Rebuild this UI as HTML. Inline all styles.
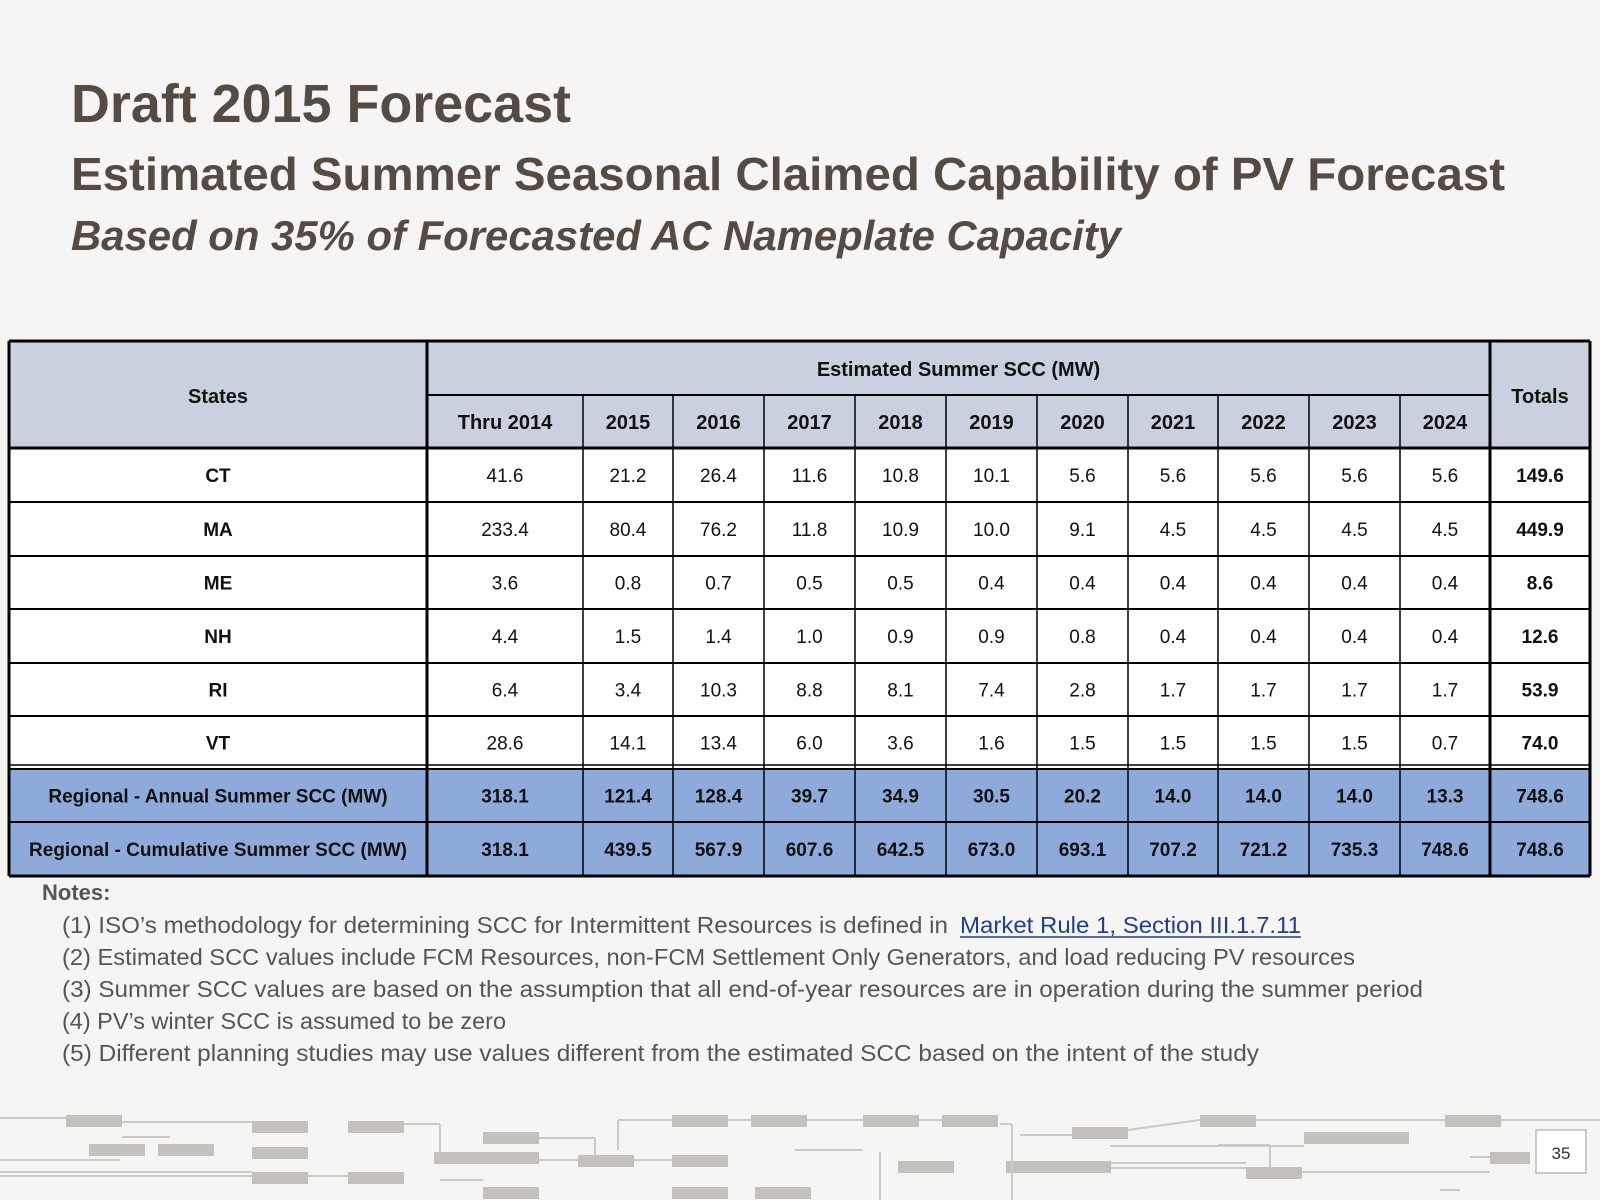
<!DOCTYPE html>
<html><head><meta charset="utf-8">
<style>
html,body{margin:0;padding:0;background:#f6f5f3;}
svg{display:block;}
text{font-family:"Liberation Sans",sans-serif;}
</style></head>
<body>
<svg id="s" width="1600" height="1200" viewBox="0 0 1600 1200" xmlns="http://www.w3.org/2000/svg">
<rect width="1600" height="1200" fill="#f6f5f3"/>
<text x="71" y="122" font-size="54" font-weight="bold" fill="#564b43" textLength="500" lengthAdjust="spacingAndGlyphs">Draft 2015 Forecast</text>
<text x="71" y="190" font-size="46" font-weight="bold" fill="#564b43" textLength="1434" lengthAdjust="spacingAndGlyphs">Estimated Summer Seasonal Claimed Capability of PV Forecast</text>
<text x="71" y="250" font-size="42" font-weight="bold" font-style="italic" fill="#564b43" textLength="1050" lengthAdjust="spacingAndGlyphs">Based on 35% of Forecasted AC Nameplate Capacity</text>
<g id="deco"></g>
<g id="tbl"></g>
<g id="notes"></g>
<rect x="1536" y="1130" width="50" height="43" fill="#fff" stroke="#bbb" stroke-width="1.5"/>
<text x="1561" y="1159" font-size="17" text-anchor="middle" fill="#333">35</text>
</svg>
<script>
const years=["Thru 2014","2015","2016","2017","2018","2019","2020","2021","2022","2023","2024"];
const states=["CT","MA","ME","NH","RI","VT"];
const ctVals=["41.6","21.2","26.4","11.6","10.8","10.1","5.6","5.6","5.6","5.6","5.6","149.6"];
const maVals=["233.4","80.4","76.2","11.8","10.9","10.0","9.1","4.5","4.5","4.5","4.5","449.9"];
const meVals=["3.6","0.8","0.7","0.5","0.5","0.4","0.4","0.4","0.4","0.4","0.4","8.6"];
const nhVals=["4.4","1.5","1.4","1.0","0.9","0.9","0.8","0.4","0.4","0.4","0.4","12.6"];
const riVals=["6.4","3.4","10.3","8.8","8.1","7.4","2.8","1.7","1.7","1.7","1.7","53.9"];
const vtVals=["28.6","14.1","13.4","6.0","3.6","1.6","1.5","1.5","1.5","1.5","0.7","74.0"];
const annualVals=["318.1","121.4","128.4","39.7","34.9","30.5","20.2","14.0","14.0","14.0","13.3","748.6"];
const cumulativeVals=["318.1","439.5","567.9","607.6","642.5","673.0","693.1","707.2","721.2","735.3","748.6","748.6"];
const NS="http://www.w3.org/2000/svg";
function mk(tag,attrs,parent,txt){const e=document.createElementNS(NS,tag);for(const k in attrs)e.setAttribute(k,attrs[k]);if(txt!==undefined)e.textContent=txt;parent.appendChild(e);return e;}
const tbl=document.getElementById('tbl');
const colX=[9,427,583,673,764,855,946,1037,1128,1218,1309,1400,1490,1590];
const rowY=[341,395,448,502,556,609,663,716,769,822,876];
let r=mk('rect',{x:9,y:341,width:1581,height:107,fill:'#c9d1df'},tbl);


r=mk('rect',{x:9,y:448,width:1581,height:321,fill:'#ffffff'},tbl);


r=mk('rect',{x:9,y:769,width:1581,height:107,fill:'#8eaadb'},tbl);


let t=mk('text',{x:(9+427)/2,y:403,'font-size':20,'font-weight':'bold','text-anchor':'middle',fill:'#111'},tbl,'States');


t=mk('text',{x:(427+1490)/2,y:376,'font-size':20,'font-weight':'bold','text-anchor':'middle',fill:'#111'},tbl,'Estimated Summer SCC (MW)');


t=mk('text',{x:(1490+1590)/2,y:403,'font-size':20,'font-weight':'bold','text-anchor':'middle',fill:'#111'},tbl,'Totals');


years.forEach((y,i)=>{
  const e=mk('text',{x:(colX[i+1]+colX[i+2])/2,y:429,'font-size':20,'font-weight':'bold','text-anchor':'middle',fill:'#111'},tbl,y);
  
  
});
const rows=[ctVals,maVals,meVals,nhVals,riVals,vtVals,annualVals,cumulativeVals];
const labels=states.concat(["Regional - Annual Summer SCC (MW)","Regional - Cumulative Summer SCC (MW)"]);
rows.forEach((vals,ri)=>{
  const cy=(rowY[ri+2]+rowY[ri+3])/2+7;
  const reg=ri>=6;
  const l=mk('text',{x:(9+427)/2,y:cy,'font-size':19,'font-weight':'bold','text-anchor':'middle',fill:'#111'},tbl,labels[ri]);
  
  
  vals.forEach((v,ci)=>{
    const tot=ci===vals.length-1;
    const e=mk('text',{x:(colX[ci+1]+colX[ci+2])/2,y:cy,'font-size':19,'font-weight':(reg||tot)?'bold':'normal','text-anchor':'middle',fill:'#111'},tbl,v);
    
    
  });
});
rowY.forEach((y,i)=>{
  const x1=(i===1)?427:9, x2=(i===1)?1490:1590;
  const ln=mk('line',{x1:x1,x2:x2,y1:y,y2:y,stroke:'#000','stroke-width':(i===0||i===2||i===rowY.length-1)?3:2},tbl);
  
  
});
const dbl=mk('line',{x1:9,x2:1590,y1:765,y2:765,stroke:'#000','stroke-width':1.5},tbl);


colX.forEach((x,i)=>{
  const ln=mk('line',{x1:x,x2:x,y1:(i===0||i===1||i===12||i===13)?341:395,y2:876,stroke:'#000','stroke-width':(i===0||i===13||i===1||i===12)?3:1.5},tbl);
  
  
});
const notes=document.getElementById('notes');
t=mk('text',{x:42,y:900,'font-size':22,'font-weight':'bold',fill:'#555'},notes,'Notes:');


const noteLines=["(1) ISO\u2019s methodology for determining SCC for Intermittent Resources is defined in","(2) Estimated SCC values include FCM Resources, non-FCM Settlement Only Generators, and load reducing PV resources","(3) Summer SCC values are based on the assumption that all end-of-year resources are in operation during the summer period","(4) PV\u2019s winter SCC is assumed to be zero","(5) Different planning studies may use values different from the estimated SCC based on the intent of the study"];
const noteLen=[886,1293,1361,444,1197];
noteLines.forEach((s,i)=>{
  const e=mk('text',{x:62,y:933+i*32,'font-size':23,fill:'#555',textLength:noteLen[i],lengthAdjust:'spacingAndGlyphs'},notes,s);
  
  
});
t=mk('text',{x:960,y:933,'font-size':23,fill:'#1f3f8f',textLength:341,lengthAdjust:'spacingAndGlyphs'},notes,'Market Rule 1, Section III.1.7.11');


mk('line',{x1:960,x2:1301,y1:937,y2:937,stroke:'#1f3f8f','stroke-width':1.5},notes);
const deco=document.getElementById('deco');
const boxes=[[66,1115,56,12],[89,1144,56,12],[158,1144,56,12],[252,1121,56,12],[252,1147,56,12],[252,1172,56,12],[348,1121,56,12],[348,1172,56,12],[483,1132,56,12],[434,1152,105,12],[578,1155,56,12],[672,1115,56,12],[751,1115,56,12],[672,1155,56,12],[863,1115,56,12],[942,1115,56,12],[898,1161,56,12],[1072,1127,56,12],[1006,1161,105,12],[1200,1115,56,12],[1304,1132,105,12],[1246,1167,56,12],[1445,1115,56,12],[1490,1152,40,12],[483,1187,56,12],[672,1187,56,12],[755,1187,56,12]];
boxes.forEach(b=>{
  const e=mk('rect',{x:b[0],y:b[1],width:b[2],height:b[3],fill:'#c4c0bc'},deco);
  
  
});
const wires=[[0,1118,66,1118],[122,1122,252,1122],[122,1137,170,1137],[0,1160,120,1160],[0,1176,252,1176],[308,1176,348,1176],[0,1172,252,1172],[404,1124,440,1124],[440,1124,440,1152],[539,1138,595,1138],[595,1138,595,1155],[539,1160,578,1160],[634,1160,672,1160],[618,1120,672,1120],[618,1120,618,1150],[728,1120,751,1120],[807,1120,863,1120],[919,1120,942,1120],[795,1150,863,1150],[880,1152,880,1200],[1012,1124,1012,1200],[1020,1135,1072,1135],[1111,1163,1246,1163],[1111,1168,1246,1168],[1128,1130,1200,1120],[1256,1120,1445,1120],[1110,1146,1304,1146],[1302,1172,1490,1172],[1501,1120,1600,1120],[1470,1157,1490,1157],[1218,1145,1270,1145],[1270,1145,1270,1167],[1000,1124,1012,1124],[440,1180,483,1180],[1440,1190,1460,1190]];
wires.forEach(w=>{
  const e=mk('line',{x1:w[0],y1:w[1],x2:w[2],y2:w[3],stroke:'#cdc9c5','stroke-width':2},deco);
  
  
});
</script>
</body></html>
